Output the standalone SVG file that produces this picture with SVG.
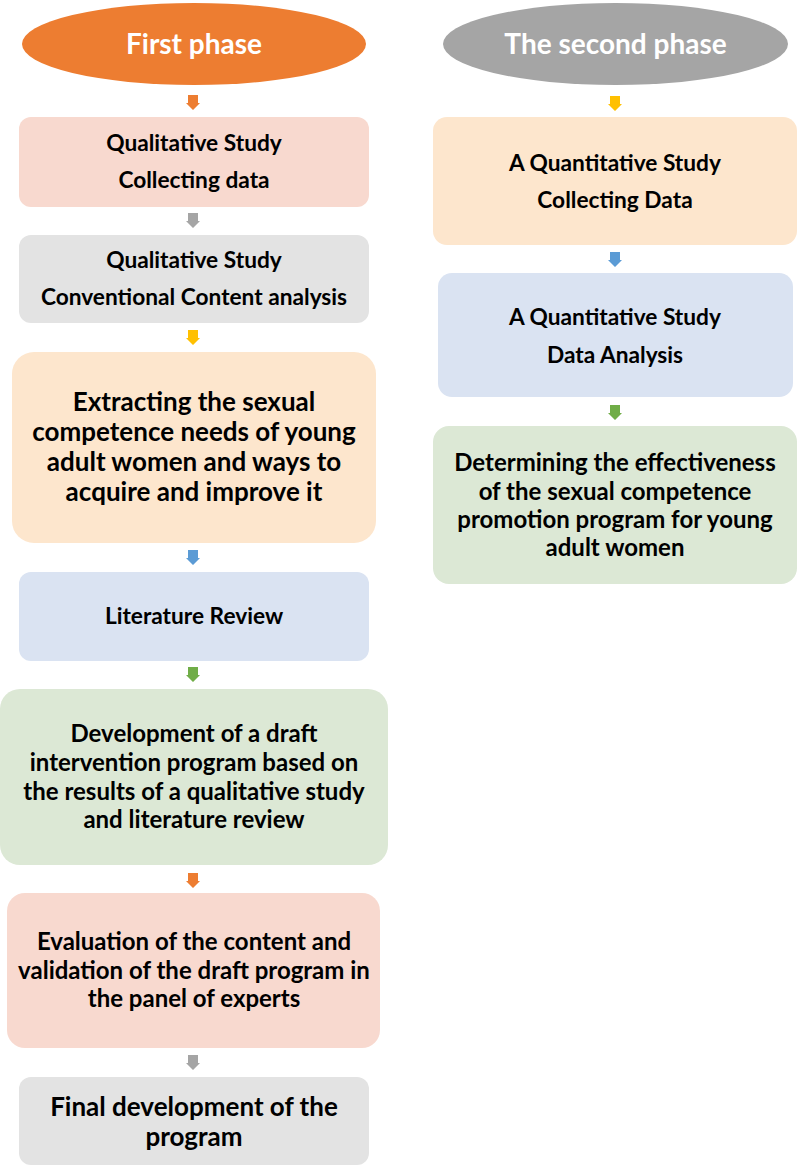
<svg xmlns="http://www.w3.org/2000/svg" xmlns:xlink="http://www.w3.org/1999/xlink" width="797" height="1166" viewBox="0 0 797 1166">
<style>
text{font-family:Lato,"Liberation Sans",sans-serif;font-weight:bold;text-anchor:middle;fill:#000}
.t{font-size:22.7px}
.m{font-size:24px}
.l{font-size:26px}
.h{font-size:28px;fill:#fff}
.pink{fill:#F8D9CF}
.gray{fill:#E3E3E3}
.peach{fill:#FDE6CD}
.blue{fill:#DAE3F2}
.green{fill:#DCE8D5}
</style>
<defs>
<path id="arr" d="M-5,0 H5 V8 H7 L0,15 L-7,8 H-5 Z"/>
</defs>
<rect width="797" height="1166" fill="#fff"/>
<g id="phase1">
<ellipse cx="194" cy="44" rx="172" ry="41" fill="#ED7D31"/>
<text class="h" x="194" y="54">First phase</text>
</g>
<g id="phase2">
<ellipse cx="615.5" cy="44" rx="172.5" ry="41" fill="#A5A5A5"/>
<text class="h" x="615.5" y="54">The second phase</text>
</g>
<g id="connectors">
<use xlink:href="#arr" x="193" y="95" fill="#ED7D31"/>
<use xlink:href="#arr" x="193" y="213" fill="#A5A5A5"/>
<use xlink:href="#arr" x="193" y="330" fill="#FFC000"/>
<use xlink:href="#arr" x="193" y="550" fill="#5B9BD5"/>
<use xlink:href="#arr" x="193" y="667" fill="#70AD47"/>
<use xlink:href="#arr" x="193" y="873" fill="#ED7D31"/>
<use xlink:href="#arr" x="193" y="1055" fill="#A5A5A5"/>
<use xlink:href="#arr" x="615" y="96" fill="#FFC000"/>
<use xlink:href="#arr" x="615" y="252" fill="#5B9BD5"/>
<use xlink:href="#arr" x="615" y="405" fill="#70AD47"/>
</g>
<g id="n1">
<rect class="pink" x="19" y="117" width="350" height="90" rx="12"/>
<text class="t" x="194" y="151">Qualitative Study</text>
<text class="t" x="194" y="188">Collecting data</text>
</g>
<g id="n2">
<rect class="gray" x="19" y="235" width="350" height="88" rx="12"/>
<text class="t" x="194" y="268">Qualitative Study</text>
<text class="t" x="194" y="305">Conventional Content analysis</text>
</g>
<g id="n3">
<rect class="peach" x="12" y="352" width="364" height="191" rx="22"/>
<text class="l" x="194" y="411">Extracting the sexual</text>
<text class="l" x="194" y="441">competence needs of young</text>
<text class="l" x="194" y="471">adult women and ways to</text>
<text class="l" x="194" y="501">acquire and improve it</text>
</g>
<g id="n4">
<rect class="blue" x="19" y="572" width="350" height="89" rx="12"/>
<text class="t" x="194" y="624">Literature Review</text>
</g>
<g id="n5">
<rect class="green" x="0" y="689" width="388" height="176" rx="20"/>
<text class="m" x="194" y="742">Development of a draft</text>
<text class="m" x="194" y="771">intervention program based on</text>
<text class="m" x="194" y="800">the results of a qualitative study</text>
<text class="m" x="194" y="828">and literature review</text>
</g>
<g id="n6">
<rect class="pink" x="7" y="893" width="373" height="155" rx="18"/>
<text class="m" x="194" y="950">Evaluation of the content and</text>
<text class="m" x="194" y="979">validation of the draft program in</text>
<text class="m" x="194" y="1007">the panel of experts</text>
</g>
<g id="n7">
<rect class="gray" x="19" y="1077" width="350" height="88" rx="12"/>
<text class="l" x="194" y="1116">Final development of the</text>
<text class="l" x="194" y="1146">program</text>
</g>
<g id="n8">
<rect class="peach" x="433" y="117" width="364" height="128" rx="14"/>
<text class="t" x="615" y="171">A Quantitative Study</text>
<text class="t" x="615" y="208">Collecting Data</text>
</g>
<g id="n9">
<rect class="blue" x="438" y="273" width="355" height="124" rx="14"/>
<text class="t" x="615" y="325">A Quantitative Study</text>
<text class="t" x="615" y="363">Data Analysis</text>
</g>
<g id="n10">
<rect class="green" x="433" y="426" width="364" height="158" rx="16"/>
<text class="m" x="615" y="471">Determining the effectiveness</text>
<text class="m" x="615" y="500">of the sexual competence</text>
<text class="m" x="615" y="528">promotion program for young</text>
<text class="m" x="615" y="556">adult women</text>
</g>
</svg>
